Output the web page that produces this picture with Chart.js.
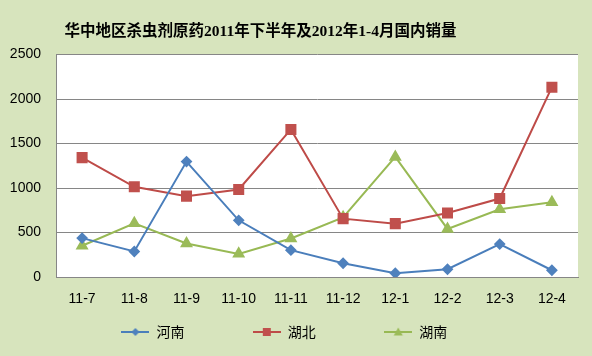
<!DOCTYPE html>
<html>
<head>
<meta charset="utf-8">
<script src="https://cdn.jsdelivr.net/npm/chart.js@4.4.1/dist/chart.umd.min.js"></script>
<style>
html,body{margin:0;padding:0;background:#D7E4BD;}
#wrap{width:592px;height:356px;position:relative;}
</style>
</head>
<body>
<div id="wrap"><canvas id="c" width="592" height="356"></canvas></div>
<script>
const titleText = '华中地区杀虫剂原药2011年下半年及2012年1-4月国内销量';
const categories = ['11-7','11-8','11-9','11-10','11-11','11-12','12-1','12-2','12-3','12-4'];
const seriesNames = ['河南','湖北','湖南'];
const henan = [437, 287, 1297, 637, 302, 155, 42, 87, 370, 76];
const hubei = [1342, 1014, 909, 984, 1659, 656, 600, 720, 882, 2134];
const hunan = [351, 603, 377, 260, 433, 671, 1350, 540, 761, 841];
const yTicks = [0, 500, 1000, 1500, 2000, 2500];

const lineColors = ['#4A7EBB', '#BE4B48', '#98B954'];
const markColors = ['#4F81BD', '#C0504D', '#9BBB59'];
const markStyles = ['rectRot', 'rect', 'triangle'];
const markRadius = [4.5, 6.4, 5.5];

function legendIcon(i) {
  const c = document.createElement('canvas');
  c.width = 28; c.height = 12;
  const g = c.getContext('2d');
  g.strokeStyle = lineColors[i]; g.lineWidth = 2;
  g.beginPath(); g.moveTo(0, 6); g.lineTo(28, 6); g.stroke();
  g.fillStyle = markColors[i];
  g.beginPath();
  if (i === 0) { g.moveTo(14, 2); g.lineTo(18, 6); g.lineTo(14, 10); g.lineTo(10, 6); }
  else if (i === 1) { g.rect(10, 2, 8, 8); }
  else { g.moveTo(14, 1.5); g.lineTo(18.5, 9.5); g.lineTo(9.5, 9.5); }
  g.closePath(); g.fill();
  return c;
}

const bgPlugin = {
  id: 'bg',
  beforeDraw(chart) {
    const ctx = chart.ctx, a = chart.chartArea;
    ctx.save();
    ctx.fillStyle = '#D7E4BD';
    ctx.fillRect(0, 0, chart.width, chart.height);
    ctx.fillStyle = '#FFFFFF';
    ctx.fillRect(a.left, a.top, a.right - a.left, a.bottom - a.top);
    ctx.restore();
  },
  afterLayout(chart) {
    const t = chart.titleBlock;
    if (t) { t.left = 0; t.right = 521; }
  }
};

const allData = [henan, hubei, hunan];
const datasets = allData.map((d, i) => ({
  label: seriesNames[i],
  data: d,
  borderColor: lineColors[i],
  backgroundColor: markColors[i],
  pointBackgroundColor: markColors[i],
  pointBorderColor: markColors[i],
  pointStyle: markStyles[i],
  pointRadius: markRadius[i],
  pointHoverRadius: markRadius[i],
  borderWidth: 2,
  tension: 0
}));

const icons = [0, 1, 2].map(legendIcon);

new Chart(document.getElementById('c'), {
  type: 'line',
  data: { labels: categories, datasets },
  plugins: [bgPlugin],
  options: {
    responsive: false,
    animation: false,
    devicePixelRatio: 1,
    layout: { padding: { left: 0, right: 14, top: 0, bottom: 7 } },
    plugins: {
      title: {
        display: true,
        text: titleText,
        color: '#000000',
        font: { family: '"Liberation Serif", "Noto Sans CJK SC", serif', size: 15.5, weight: 'bold', lineHeight: 1.2 },
        padding: { top: 23, bottom: 13 },
        align: 'center'
      },
      legend: {
        display: true,
        position: 'bottom',
        fullSize: false,
        labels: {
          usePointStyle: true,
          pointStyleWidth: 28,
          boxWidth: 28,
          padding: 3,
          color: '#000000',
          font: { family: '"Noto Sans CJK SC", sans-serif', size: 14 },
          generateLabels(chart) {
            return chart.data.datasets.map((ds, i) => ({
              text: ds.label + '\u3000\u3000\u3000\u3000   ',
              pointStyle: icons[i],
              fillStyle: markColors[i],
              strokeStyle: lineColors[i],
              lineWidth: 0,
              hidden: false,
              datasetIndex: i,
              fontColor: '#000000'
            }));
          }
        }
      },
      tooltip: { enabled: false }
    },
    scales: {
      x: {
        offset: true,
        grid: { display: false, drawTicks: false, offset: true },
        border: { display: true, color: '#868686', width: 1 },
        ticks: { color: '#000000', padding: 14, font: { family: '"Liberation Sans", sans-serif', size: 14 } },
        afterFit(s) { s.height = 45; }
      },
      y: {
        min: 0, max: 2500,
        afterBuildTicks(s) { s.ticks = yTicks.map(v => ({ value: v })); },
        grid: { color: '#868686', lineWidth: 1, drawTicks: false },
        border: { display: true, color: '#868686', width: 1 },
        ticks: {
          color: '#000000', padding: 15,
          font: { family: '"Liberation Sans", sans-serif', size: 14 },
          callback(v) { return String(v); }
        },
        afterFit(s) { s.width = 56; }
      }
    }
  }
});
</script>
</body>
</html>
